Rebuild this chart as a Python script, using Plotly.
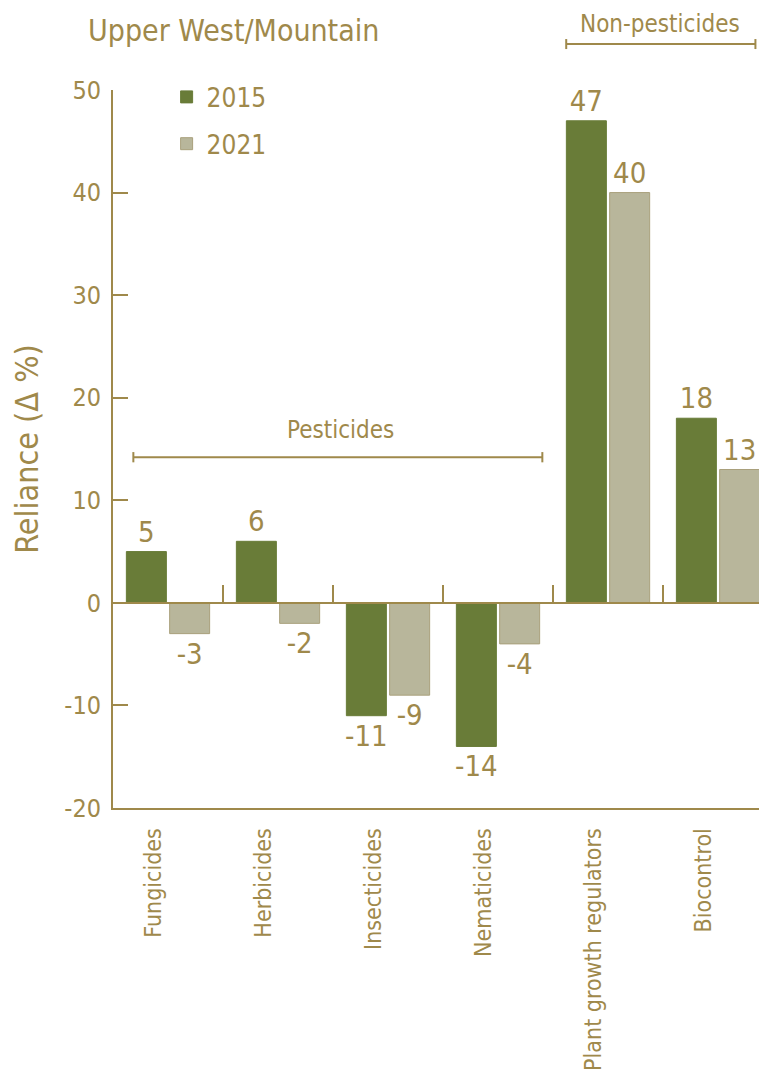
import plotly.graph_objects as go

categories = ["Fungicides", "Herbicides", "Insecticides", "Nematicides",
              "Plant growth regulators", "Biocontrol"]
values_2015 = [5, 6, -11, -14, 47, 18]
values_2021 = [-3, -2, -9, -4, 40, 13]
series_names = ["2015", "2021"]
y_ticks = [-20, -10, 0, 10, 20, 30, 40, 50]
y_tick_text = ["-20", "-10", "0", "10", "20", "30", "40", "50"]

GOLD = "#9f894b"
DARK = "#697c38"
LIGHT = "#b8b69b"
FONT = "DejaVu Sans Condensed, Liberation Sans Narrow, sans-serif"

fig = go.Figure()
fig.add_trace(go.Bar(
    x=categories, y=values_2015, name=series_names[0], legendgroup="a",
    marker=dict(color=DARK, line=dict(color=DARK, width=1)),
    text=[str(v) for v in values_2015], textposition="outside",
    constraintext="none", cliponaxis=False,
    textfont=dict(size=29, color=GOLD, family=FONT),
))
fig.add_trace(go.Bar(
    x=categories, y=values_2021, name=series_names[1], legendgroup="b",
    marker=dict(color=LIGHT, line=dict(color="#a9a07c", width=1)),
    text=[str(v) for v in values_2021], textposition="outside",
    constraintext="none", cliponaxis=False,
    textfont=dict(size=29, color=GOLD, family=FONT),
))
# helper trace for the zero-line axis (category boundaries)
fig.add_trace(go.Scatter(
    x=categories, y=[0] * len(categories), xaxis="x2", mode="markers",
    marker=dict(opacity=0), showlegend=False, hoverinfo="skip",
))

ymin, ymax = y_ticks[0], y_ticks[-1]
xr = [-0.5, 5.518]
label_shift = 0.135

fig.update_layout(
    width=767, height=1073,
    margin=dict(l=105, r=0, t=82, b=273, autoexpand=False),
    paper_bgcolor="white", plot_bgcolor="white",
    font=dict(family=FONT, color=GOLD, size=25),
    barmode="group", bargap=0.213, bargroupgap=0.076,
    title=dict(text="Upper West/Mountain", x=80 / 767, xanchor="left",
               y=1 - 22 / 1073, yanchor="middle",
               font=dict(size=30, color=GOLD, family=FONT)),
    legend=dict(x=0.081, y=1.023, xanchor="left", yanchor="top",
                font=dict(size=26, color=GOLD, family=FONT),
                tracegroupgap=10, bgcolor="rgba(0,0,0,0)"),
    xaxis=dict(type="category", range=xr, showline=True, linecolor=GOLD,
               linewidth=2, ticks="", showgrid=False, zeroline=False,
               tickmode="array",
               tickvals=[i - label_shift for i in range(len(categories))],
               ticktext=categories,
               tickangle=-90, tickfont=dict(size=23, color=GOLD),
               ticklabelstandoff=9, automargin=False),
    xaxis2=dict(type="category", range=xr, overlaying="x", anchor="free",
                position=(0 - ymin) / (ymax - ymin), side="bottom",
                showline=True, linecolor=GOLD, linewidth=2,
                ticks="inside", tickson="boundaries", ticklen=17,
                tickwidth=2, tickcolor=GOLD, showticklabels=False,
                showgrid=False, zeroline=False, automargin=False),
    yaxis=dict(range=[ymin, ymax], tickmode="array", tickvals=y_ticks,
               ticktext=y_tick_text, showline=True,
               linecolor=GOLD, linewidth=2, ticks="inside", ticklen=15,
               tickwidth=2, tickcolor=GOLD, showgrid=False, zeroline=False,
               tickfont=dict(size=25, color=GOLD), ticklabelstandoff=5,
               automargin=False,
               title=dict(text="Reliance (Δ %)", font=dict(size=32, color=GOLD),
                          standoff=18)),
)

# group brackets
def bracket(x0, x1, yv, yref):
    cap = 0.5 if yref == "y" else 5 / 718
    fig.add_shape(type="line", xref="x", yref=yref, x0=x0, x1=x1, y0=yv, y1=yv,
                  line=dict(color=GOLD, width=2))
    for xv in (x0, x1):
        fig.add_shape(type="line", xref="x", yref=yref, x0=xv, x1=xv,
                      y0=yv - cap, y1=yv + cap, line=dict(color=GOLD, width=2))

bracket(-0.315, 3.403, 14.2, "y")
bracket(3.62, 5.34, 1.064, "paper")

fig.add_annotation(text="Pesticides", x=1.564, y=16.85, xref="x", yref="y",
                   yanchor="middle", showarrow=False,
                   font=dict(size=24, color=GOLD))
fig.add_annotation(text="Non-pesticides", x=4.47, y=1.092, xref="x", yref="paper",
                   yanchor="middle", showarrow=False,
                   font=dict(size=24, color=GOLD))

fig.write_html("out.html")
